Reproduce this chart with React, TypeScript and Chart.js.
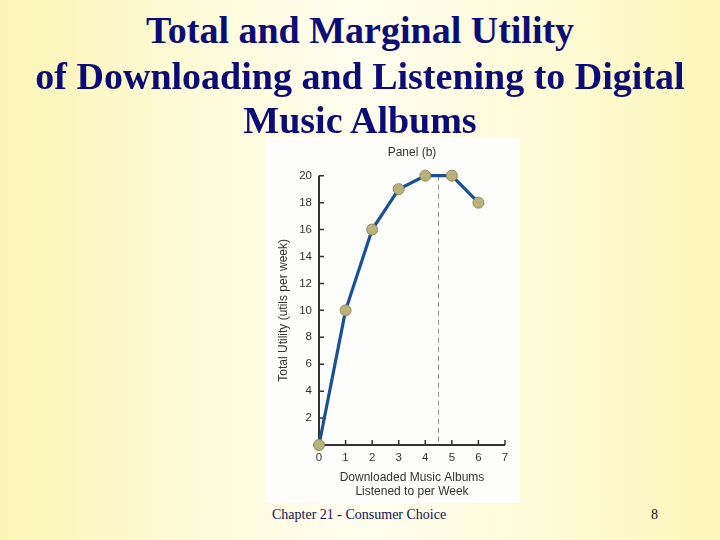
import React, { useEffect, useRef } from "react";
import { Chart, registerables } from "chart.js";

Chart.register(...registerables);

const albums = [0, 1, 2, 3, 4, 5, 6];
const totalUtility = [0, 10, 16, 19, 20, 20, 18];
const dashedAt = 4.5;
const titleLines = [
  "Total and Marginal Utility",
  "of Downloading and Listening to Digital",
  "Music Albums",
];
const titleBaselines = [42.5, 88.5, 132.5];
const panelTitle = "Panel (b)";
const yTitle = "Total Utility (utils per week)";
const xTitle = ["Downloaded Music Albums", "Listened to per Week"];
const footerLeft = "Chapter 21 - Consumer Choice";
const footerRight = "8";

const axisPlugin = {
  id: "axisDecor",
  beforeDatasetsDraw(chart: any) {
    const { ctx } = chart;
    const x = chart.scales.x;
    const y = chart.scales.y;
    const x0 = x.getPixelForValue(0);
    const y0 = y.getPixelForValue(0);
    ctx.save();
    ctx.strokeStyle = "#8a8a8a";
    ctx.lineWidth = 1;
    ctx.setLineDash([5, 4]);
    const xd = x.getPixelForValue(dashedAt);
    ctx.beginPath();
    ctx.moveTo(xd, y.getPixelForValue(20));
    ctx.lineTo(xd, y0);
    ctx.stroke();
    ctx.setLineDash([]);
    ctx.strokeStyle = "#333333";
    ctx.lineWidth = 2;
    ctx.beginPath();
    ctx.moveTo(x0, y.getPixelForValue(20));
    ctx.lineTo(x0, y0);
    ctx.lineTo(x.getPixelForValue(7), y0);
    ctx.stroke();
    ctx.lineWidth = 1.5;
    ctx.beginPath();
    for (let v = 2; v <= 20; v += 2) {
      const py = y.getPixelForValue(v);
      ctx.moveTo(x0, py);
      ctx.lineTo(x0 + 5, py);
    }
    for (let v = 1; v <= 7; v += 1) {
      const px = x.getPixelForValue(v);
      ctx.moveTo(px, y0);
      ctx.lineTo(px, y0 - 5);
    }
    ctx.stroke();
    ctx.restore();
  },
};

function UtilityChart() {
  const ref = useRef<HTMLCanvasElement | null>(null);
  useEffect(() => {
    if (!ref.current) return;
    const font = "'Liberation Sans', Arial, Helvetica, sans-serif";
    const chart = new Chart(ref.current, {
      type: "line",
      data: {
        datasets: [
          {
            data: albums.map((a, i) => ({ x: a, y: totalUtility[i] })),
            borderColor: "#1b5194",
            borderWidth: 3.2,
            pointRadius: 5.5,
            pointBackgroundColor: "#b9b27a",
            pointBorderColor: "#8d8757",
            pointBorderWidth: 1,
            tension: 0,
            clip: false as any,
          },
        ],
      },
      options: {
        animation: false,
        responsive: false,
        maintainAspectRatio: false,
        layout: { padding: { left: 0, right: 15, top: 0, bottom: 0 } },
        plugins: {
          legend: { display: false },
          tooltip: { enabled: false },
          title: {
            display: true,
            fullSize: false,
            text: panelTitle,
            color: "#333333",
            font: { family: font, size: 12, weight: "normal", lineHeight: 1.2 },
            padding: { top: 8, bottom: 16.3 },
          },
        },
        scales: {
          x: {
            type: "linear",
            min: 0,
            max: 7,
            border: { display: false },
            grid: { display: false, drawTicks: false },
            ticks: {
              stepSize: 1,
              color: "#333333",
              padding: 6,
              font: { family: font, size: 11.5 },
            },
            title: {
              display: true,
              text: xTitle,
              color: "#333333",
              font: { family: font, size: 12, lineHeight: "14px" as any },
              padding: { top: 0, bottom: 4 },
            },
            afterFit: (axis: any) => {
              axis.height = 58;
            },
          },
          y: {
            type: "linear",
            min: 0,
            max: 20,
            border: { display: false },
            grid: { display: false, drawTicks: false },
            ticks: {
              stepSize: 2,
              color: "#333333",
              padding: 7,
              font: { family: font, size: 11.5 },
              callback: (v: any) => (v === 0 ? null : v),
            },
            title: {
              display: true,
              text: yTitle,
              color: "#333333",
              font: { family: font, size: 12, lineHeight: 1.2 },
              padding: { top: 11, bottom: 0 },
            },
            afterFit: (axis: any) => {
              axis.width = 54;
            },
          },
        },
      },
      plugins: [axisPlugin],
    });
    return () => chart.destroy();
  }, []);
  return <canvas ref={ref} width={255} height={366} style={{ display: "block" }} />;
}

export default function App() {
  useEffect(() => {
    document.body.style.margin = "0";
  }, []);
  const serif = "'Liberation Serif', 'Times New Roman', serif";
  return (
    <div
      style={{
        position: "fixed",
        left: 0,
        top: 0,
        width: 720,
        height: 540,
        overflow: "hidden",
        background:
          "linear-gradient(to right, #fbf5b4 0%, #fefbdc 30%, #fffdee 50%, #fefbd8 75%, #fcf6b8 100%)",
      }}
    >
      <div
        style={{
          position: "absolute",
          left: 265,
          top: 137,
          width: 255,
          height: 366,
          background: "#fdfdfb",
        }}
      >
        <UtilityChart />
      </div>
      {titleLines.map((t, i) => (
        <div
          key={i}
          style={{
            position: "absolute",
            left: 0,
            width: 720,
            top: titleBaselines[i] - 33.8,
            height: 42,
            lineHeight: "42px",
            textAlign: "center",
            fontFamily: serif,
            fontWeight: "bold",
            fontSize: 38,
            color: "#0c0c78",
            whiteSpace: "nowrap",
          }}
        >
          {t}
        </div>
      ))}
      <div
        style={{
          position: "absolute",
          left: 272,
          top: 507,
          fontFamily: serif,
          fontSize: 14,
          color: "#10105a",
          whiteSpace: "nowrap",
        }}
      >
        {footerLeft}
      </div>
      <div
        style={{
          position: "absolute",
          left: 651,
          top: 507,
          fontFamily: serif,
          fontSize: 14,
          color: "#111111",
        }}
      >
        {footerRight}
      </div>
    </div>
  );
}
